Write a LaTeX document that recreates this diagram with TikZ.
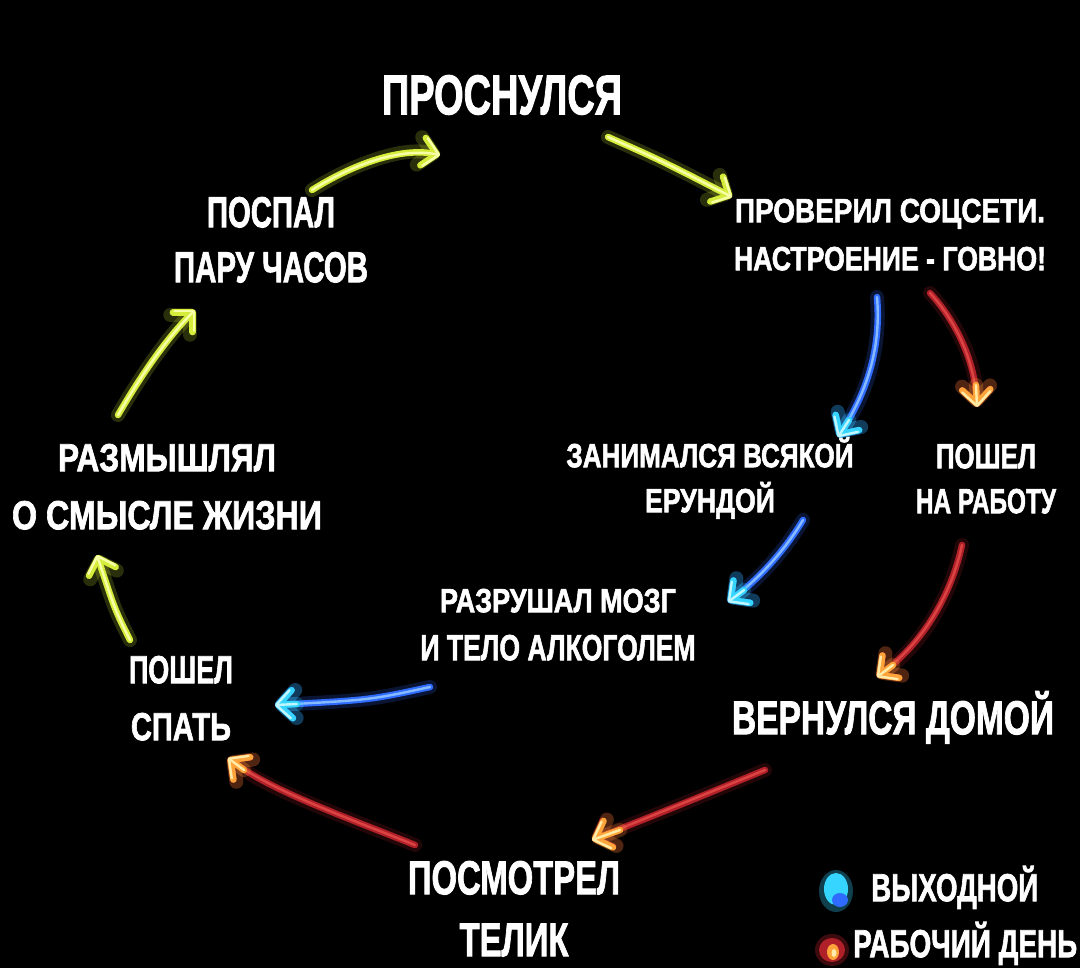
\documentclass[tikz,border=0pt]{standalone}
\usepackage{fontspec}
\usepackage{graphicx}
\newfontfamily\cf{Liberation Sans}[FakeBold=2]
\usetikzlibrary{arrows.meta}
\definecolor{yl}{HTML}{D6EC3A}
\definecolor{ylc}{HTML}{F6FFA8}
\definecolor{bl}{HTML}{2F6BFF}
\definecolor{blc}{HTML}{86BCFF}
\definecolor{cy}{HTML}{35D5FF}
\definecolor{cyc}{HTML}{C0F6FF}
\definecolor{rd}{HTML}{B02028}
\definecolor{rdc}{HTML}{DC4444}
\definecolor{org}{HTML}{FFA43A}
\definecolor{orc}{HTML}{FFEBA8}
% text fitted to a given width and cap height (pt)
\newcommand\fitw[3]{\resizebox{#1pt}{#2pt}{\raisebox{0pt}[7.16pt][0pt]{\fontsize{10}{12}\selectfont\cf\bfseries #3}}}
\newcommand\glowarr[4]{%
  \draw[halo=#1,tipA] #4;
  \draw[body=#2,tipA] #4;
  \draw[core=#3,tipA] #4;}
\tikzset{
  lbl/.style={text=white, inner sep=0pt, align=center, anchor=north},
  bs/.style={font=\fontsize{10}{#1}\selectfont},
  halo/.style={line width=14pt, draw=#1, opacity=.2, line cap=round, line join=round},
  body/.style={line width=6.5pt, draw=#1, line cap=round, line join=round},
  core/.style={line width=2.4pt, draw=#1, line cap=round, line join=round},
  tipA/.style={-{Straight Barb[length=14pt,width=28pt,round]}},
}
\begin{document}
\begin{tikzpicture}[x=1pt,y=-1pt]
\fill[black] (0,0) rectangle (1080,968);
\useasboundingbox (0,0) rectangle (1080,968);

% labels
\node[lbl] (woke) at (502,74) {\fitw{240}{40}{ПРОСНУЛСЯ}};
\node[lbl,bs=55] (slept) at (271,196) {\fitw{128}{31}{ПОСПАЛ}\\\fitw{194}{31}{ПАРУ ЧАСОВ}};
\node[lbl,bs=48] (check) at (890,198) {\fitw{310}{24}{ПРОВЕРИЛ СОЦСЕТИ.}\\\fitw{312}{24}{НАСТРОЕНИЕ - ГОВНО!}};
\node[lbl,bs=45] (junk) at (710,443) {\fitw{287}{24}{ЗАНИМАЛСЯ ВСЯКОЙ}\\\fitw{130}{24}{ЕРУНДОЙ}};
\node[lbl,bs=45] (work) at (986,443) {\fitw{100}{25}{ПОШЕЛ}\\\fitw{140}{25}{НА РАБОТУ}};
\node[lbl,bs=58] (ponder) at (167,443) {\fitw{218}{28}{РАЗМЫШЛЯЛ}\\\fitw{310}{29}{О СМЫСЛЕ ЖИЗНИ}};
\node[lbl,bs=48] (drink) at (558,588) {\fitw{236}{24}{РАЗРУШАЛ МОЗГ}\\\fitw{275}{26}{И ТЕЛО АЛКОГОЛЕМ}};
\node[lbl,bs=57] (bed) at (181,655) {\fitw{104}{28}{ПОШЕЛ}\\\fitw{100}{28}{СПАТЬ}};
\node[lbl] (home) at (893,700) {\fitw{322}{34}{ВЕРНУЛСЯ ДОМОЙ}};
\node[lbl,bs=62] (tv) at (514,860) {\fitw{212}{34}{ПОСМОТРЕЛ}\\\fitw{109}{34}{ТЕЛИК}};
\node[lbl,anchor=north west] (legW) at (871,873) {\fitw{167}{28}{ВЫХОДНОЙ}};
\node[lbl,anchor=north west] (legR) at (853,929) {\fitw{224}{28}{РАБОЧИЙ ДЕНЬ}};

% arrow end points
\coordinate (a1s) at (312,190); \coordinate (a1e) at (440,155);
\coordinate (a2s) at (608,137); \coordinate (a2e) at (732,197);
\coordinate (a3s) at (877,297); \coordinate (a3e) at (838,437); \coordinate (a3t) at (849,420);
\coordinate (a4s) at (930,293); \coordinate (a4e) at (977,407); \coordinate (a4t) at (976,385);
\coordinate (a5s) at (803,520); \coordinate (a5e) at (728,602); \coordinate (a5t) at (744,590);
\coordinate (a6s) at (962,545); \coordinate (a6e) at (877,677); \coordinate (a6t) at (893,665);
\coordinate (a7s) at (765,770); \coordinate (a7e) at (592,840); \coordinate (a7t) at (620,830);
\coordinate (a8s) at (415,845); \coordinate (a8e) at (228,758); \coordinate (a8t) at (244,770);
\coordinate (a9s) at (430,687); \coordinate (a9e) at (275,705); \coordinate (a9t) at (297,704);
\coordinate (a10s) at (130,640); \coordinate (a10e) at (97,555);
\coordinate (a11s) at (118,415); \coordinate (a11e) at (195,310);

% yellow arrows
\glowarr{yl}{yl}{ylc}{(a1s) .. controls (360,160) and (405,148) .. (a1e)}
\glowarr{yl}{yl}{ylc}{(a2s) .. controls (660,160) .. (a2e)}
\glowarr{yl}{yl}{ylc}{(a10s) .. controls (115,610) .. (a10e)}
\glowarr{yl}{yl}{ylc}{(a11s) .. controls (150,360) and (175,330) .. (a11e)}

% blue arrows (days off)
\glowarr{bl}{bl}{blc}{(a3s) .. controls (882,355) and (862,400) .. (a3e)}
\glowarr{cy}{cy}{cyc}{(a3t) -- (a3e)}
\glowarr{bl}{bl}{blc}{(a5s) .. controls (785,550) and (760,578) .. (a5e)}
\glowarr{cy}{cy}{cyc}{(a5t) -- (a5e)}
\glowarr{bl}{bl}{blc}{(a9s) .. controls (370,700) .. (a9e)}
\glowarr{cy}{cy}{cyc}{(a9t) -- (a9e)}

% red arrows (work days)
\glowarr{rd}{rd}{rdc}{(a4s) .. controls (955,320) and (975,360) .. (a4e)}
\glowarr{org}{org}{orc}{(a4t) -- (a4e)}
\glowarr{rd}{rd}{rdc}{(a6s) .. controls (950,600) and (920,645) .. (a6e)}
\glowarr{org}{org}{orc}{(a6t) -- (a6e)}
\glowarr{rd}{rd}{rdc}{(a7s) .. controls (680,805) .. (a7e)}
\glowarr{org}{org}{orc}{(a7t) -- (a7e)}
\glowarr{rd}{rd}{rdc}{(a8s) .. controls (340,815) and (270,790) .. (a8e)}
\glowarr{org}{org}{orc}{(a8t) -- (a8e)}

% legend markers
\fill[cy,opacity=.3] (836,891) ellipse [x radius=17, y radius=21];
\fill[cy] (836,889) ellipse [x radius=12, y radius=16];
\fill[bl] (840,900) ellipse [x radius=8, y radius=7];
\fill[rd,opacity=.35] (832,950) ellipse [x radius=17, y radius=16];
\fill[rd] (832,950) ellipse [x radius=13, y radius=12];
\fill[org] (833,952) ellipse [x radius=6, y radius=8];
\fill[orc] (834,953) ellipse [x radius=2.5, y radius=4];
\end{tikzpicture}
\end{document}
